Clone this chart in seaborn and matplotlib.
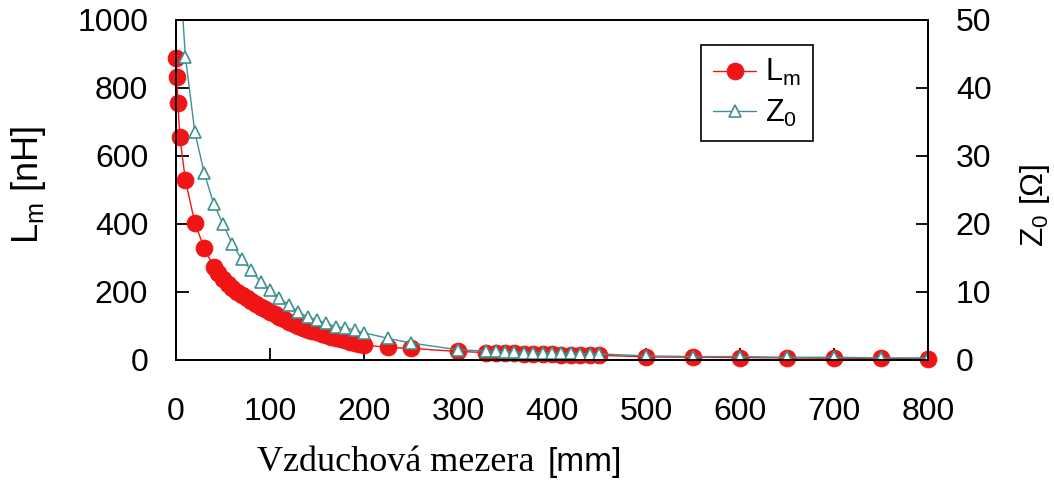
import matplotlib
matplotlib.use('Agg')
import matplotlib.pyplot as plt
import seaborn as sns

# values
lm_gap = [0, 1, 2, 4, 10, 20, 30, 40,
          45, 50, 55, 60, 65, 70, 75, 80, 85, 90, 95, 100,
          105, 110, 115, 120, 125, 130, 135, 140, 145, 150,
          155, 160, 165, 170, 175, 180, 185, 190, 195, 200,
          225, 250, 300,
          330, 340, 350, 360, 370, 380, 390, 400, 410, 420, 430, 440, 450,
          500, 550, 600, 650, 700, 750, 800]
lm_nh = [888, 832, 756, 656, 529, 403, 329, 274,
         255, 238, 224, 212, 201, 192, 182, 173, 164, 156, 149, 142,
         134, 127, 120, 113, 106, 100, 94, 89, 85, 81,
         77, 73, 69, 65, 61, 58, 54, 51, 47, 44,
         37, 34, 25,
         22, 21, 20, 20, 19, 18, 18, 17, 16, 16, 15, 15, 14,
         9, 8, 7, 6, 5, 5, 4]

z0_gap = [5, 10, 20, 30, 40, 50, 60, 70, 80, 90, 100,
          110, 120, 130, 140, 150, 160, 170, 180, 190, 200,
          225, 250, 300,
          330, 340, 350, 360, 370, 380, 390, 400, 410, 420, 430, 440, 450,
          500, 550, 600, 650, 700, 750, 800]
z0_ohm = [55, 44.6, 33.5, 27.5, 23.0, 20.0, 17.0, 14.8, 13.2, 11.5, 10.3,
          9.1, 8.1, 7.1, 6.3, 5.9, 5.4, 4.9, 4.7, 4.4, 4.0,
          3.2, 2.5, 1.5,
          1.3, 1.3, 1.2, 1.2, 1.1, 1.1, 1.1, 1.0, 1.0, 1.0, 0.9, 0.9, 0.9,
          0.6, 0.5, 0.5, 0.4, 0.4, 0.3, 0.3]

x_ticks = [0, 100, 200, 300, 400, 500, 600, 700, 800]
lm_ticks = [0, 200, 400, 600, 800, 1000]
z0_ticks = [0, 10, 20, 30, 40, 50]

sns.set_style('ticks')
plt.rcParams['font.family'] = ['Liberation Sans', 'DejaVu Sans']
plt.rcParams['mathtext.fontset'] = 'custom'
plt.rcParams['mathtext.rm'] = 'Liberation Sans'
plt.rcParams['mathtext.it'] = 'Liberation Sans'
plt.rcParams['text.color'] = 'black'
plt.rcParams['axes.labelcolor'] = 'black'
plt.rcParams['xtick.color'] = 'black'
plt.rcParams['ytick.color'] = 'black'

red = '#f01414'
teal = '#3f9090'

fig = plt.figure(figsize=(10.54, 4.86), dpi=100)
ax = fig.add_axes([0.167, 0.2593, 0.7135, 0.6996])
ax2 = ax.twinx()

sns.lineplot(x=lm_gap, y=lm_nh, ax=ax, color=red, marker='o', markersize=12,
             markeredgecolor=red, linewidth=1, estimator=None, label=r'L$_{\rm m}$',
             clip_on=False)
sns.lineplot(x=z0_gap, y=z0_ohm, ax=ax2, color=teal, marker='^', markersize=9,
             markerfacecolor='white', markeredgecolor=teal, markeredgewidth=1.2,
             linewidth=1, estimator=None, label=r'Z$_{\rm 0}$')

ax.set_xlim(0, 800)
ax.set_ylim(0, 1000)
ax2.set_ylim(0, 50)
ax.set_xticks(x_ticks)
ax.set_yticks(lm_ticks)
ax2.set_yticks(z0_ticks)

for a in (ax, ax2):
    for s in a.spines.values():
        s.set_visible(True)
        s.set_linewidth(1.3)
        s.set_color('black')
ax.tick_params(axis='both', direction='in', length=9, width=1.3, labelsize=23, pad=20)
ax.tick_params(axis='x', pad=27)
ax2.tick_params(axis='y', direction='in', length=9, width=1.3, labelsize=23, pad=20)

ax.set_xlabel('')
ax.set_ylabel(r'L$_{\rm m}$ [nH]', fontsize=26)
ax.yaxis.set_label_coords(-0.17, 0.515)
ax2.set_ylabel(r'Z$_{\rm 0}$ [Ω]', fontsize=23)
ax2.yaxis.set_label_coords(1.12, 0.456)

fig.text(0.507, 0.03, 'Vzduchová mezera', family='Liberation Serif', fontsize=26,
         ha='right', va='baseline')
fig.text(0.52, 0.03, '[mm]', fontsize=24, ha='left', va='baseline')

h1, l1 = ax.get_legend_handles_labels()
h2, l2 = ax2.get_legend_handles_labels()
ax.get_legend().remove()
ax2.get_legend().remove()
leg = ax2.legend(h1 + h2, l1 + l2, loc='upper right', bbox_to_anchor=(0.847, 0.926),
                 borderaxespad=0, fontsize=22, handlelength=1.4, handletextpad=0.3,
                 fancybox=False, framealpha=1, edgecolor='black', labelspacing=0.3)
leg.get_frame().set_linewidth(1.2)

fig.savefig('out.png', dpi=100)
